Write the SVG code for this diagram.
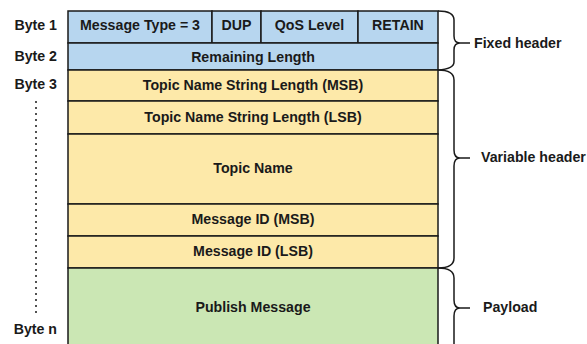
<svg xmlns="http://www.w3.org/2000/svg" width="587" height="344" viewBox="0 0 587 344">
<style>
text{font-family:"Liberation Sans",Arial,sans-serif;font-weight:bold;font-size:14.2px;fill:#1a1a1a;dominant-baseline:central}
.c{text-anchor:middle}
.r{text-anchor:end}
.cell{stroke:#1a1a1a;stroke-width:1.5}
.blue{fill:#b7d6ef}
.yellow{fill:#fde9a9}
.green{fill:#cbe7b4}
.brace{fill:none;stroke:#1a1a1a;stroke-width:1.5}
</style>
<rect width="587" height="344" fill="#ffffff"/>
<g id="labels">
<text class="r" x="57" y="25">Byte 1</text>
<text class="r" x="57" y="56">Byte 2</text>
<text class="r" x="57" y="84">Byte 3</text>
<text class="r" x="57" y="329">Byte n</text>
<line x1="36" y1="101" x2="36" y2="316" stroke="#1a1a1a" stroke-width="1.5" stroke-dasharray="2,4"/>
</g>
<g id="msgtype"><rect class="cell blue" x="68" y="11" width="144" height="32"/><text class="c" x="140" y="25">Message Type = 3</text></g>
<g id="dup"><rect class="cell blue" x="212" y="11" width="49" height="32"/><text class="c" x="236.5" y="25">DUP</text></g>
<g id="qos"><rect class="cell blue" x="261" y="11" width="97" height="32"/><text class="c" x="309.5" y="25">QoS Level</text></g>
<g id="retain"><rect class="cell blue" x="358" y="11" width="80" height="32"/><text class="c" x="398" y="25">RETAIN</text></g>
<g id="remaining"><rect class="cell blue" x="68" y="43" width="370" height="27"/><text class="c" x="253" y="57">Remaining Length</text></g>
<g id="tnmsb"><rect class="cell yellow" x="68" y="70" width="370" height="31"/><text class="c" x="253" y="85">Topic Name String Length (MSB)</text></g>
<g id="tnlsb"><rect class="cell yellow" x="68" y="101" width="370" height="33"/><text class="c" x="253" y="117">Topic Name String Length (LSB)</text></g>
<g id="topicname"><rect class="cell yellow" x="68" y="134" width="370" height="70"/><text class="c" x="253" y="168">Topic Name</text></g>
<g id="midmsb"><rect class="cell yellow" x="68" y="204" width="370" height="32"/><text class="c" x="253" y="219">Message ID (MSB)</text></g>
<g id="midlsb"><rect class="cell yellow" x="68" y="236" width="370" height="32"/><text class="c" x="253" y="251">Message ID (LSB)</text></g>
<g id="publish"><rect class="cell green" x="68" y="268" width="370" height="90"/><text class="c" x="253" y="307">Publish Message</text></g>
<g id="connectors">
<path class="brace" d="M438,11 Q454,11 454,20 L454,36 Q454,43 460,43 L470,43 M460,43 Q454,43 454,50 L454,62 Q454,69 438,70"/>
<path class="brace" d="M438,70 Q454,70 454,80 L454,150 Q454,158 460,158 L470,158 M460,158 Q454,158 454,166 L454,258 Q454,268 438,268"/>
<path class="brace" d="M438,268 Q454,268 454,278 L454,300 Q454,308 460,308 L470,308 M460,308 Q454,308 454,316 L454,350"/>
</g>
<g id="sections">
<text x="474" y="43">Fixed header</text>
<text x="481" y="157">Variable header</text>
<text x="483" y="307">Payload</text>
</g>
</svg>
